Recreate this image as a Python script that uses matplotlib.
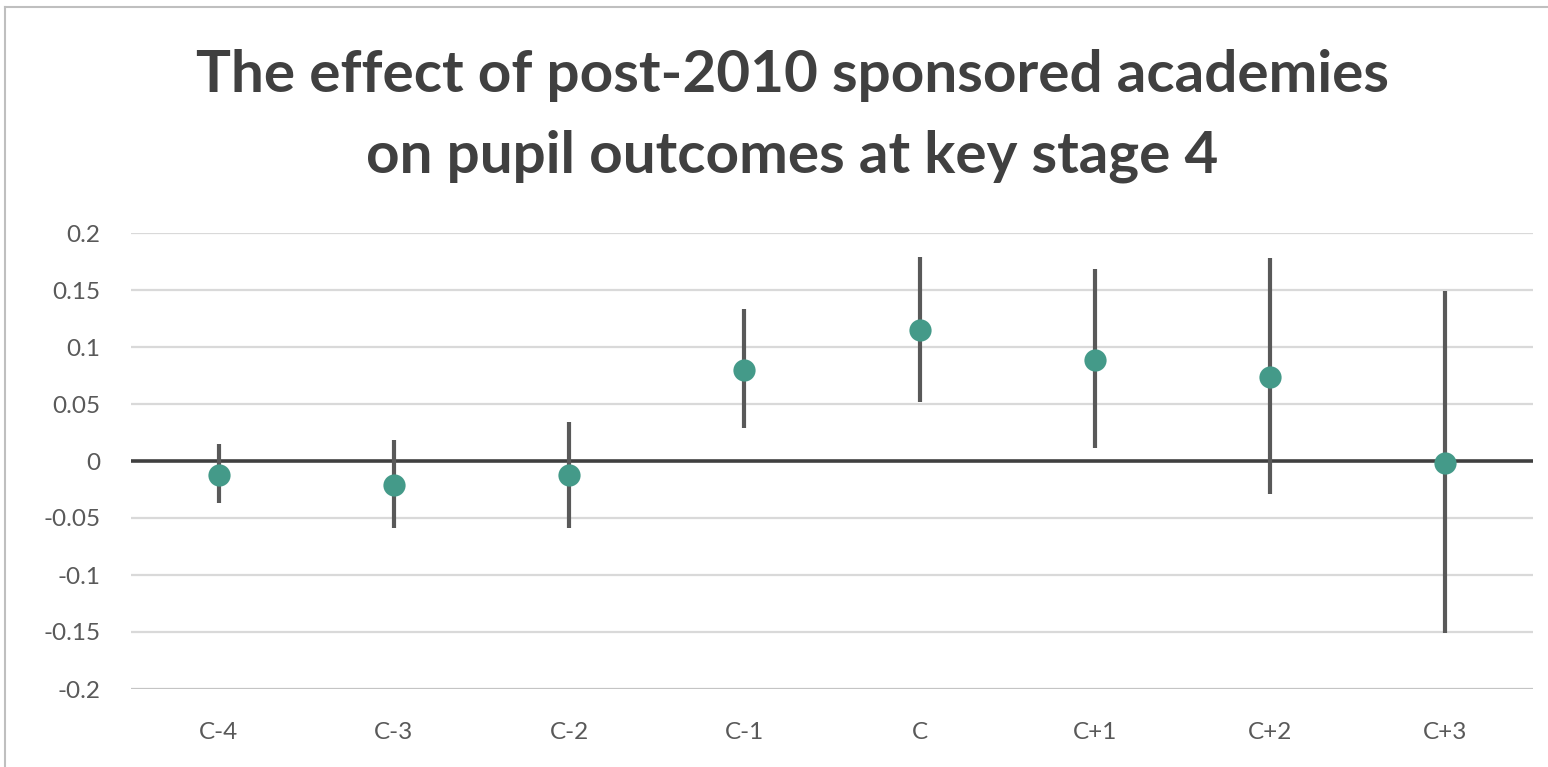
import matplotlib
matplotlib.use("Agg")
import matplotlib.pyplot as plt
from matplotlib.lines import Line2D

categories = ["C-4", "C-3", "C-2", "C-1", "C", "C+1", "C+2", "C+3"]
estimates = [-0.012, -0.021, -0.012, 0.080, 0.115, 0.089, 0.074, -0.002]
upper = [0.015, 0.018, 0.034, 0.133, 0.179, 0.168, 0.178, 0.149]
lower = [-0.037, -0.059, -0.059, 0.029, 0.052, 0.011, -0.029, -0.151]
yticks = [-0.2, -0.15, -0.1, -0.05, 0, 0.05, 0.1, 0.15, 0.2]
ytick_labels = ["-0.2", "-0.15", "-0.1", "-0.05", "0", "0.05", "0.1", "0.15", "0.2"]

plt.rcParams['font.family'] = ['Lato', 'DejaVu Sans']

W, H = 1548, 767
fig = plt.figure(figsize=(W / 100, H / 100), dpi=100)
fig.patch.set_facecolor("white")

ax = fig.add_axes([131 / W, 1 - 689 / H, (1533 - 131) / W, (689 - 233) / H])
ax.set_xlim(-0.5, len(categories) - 0.5)
ax.set_ylim(-0.2, 0.2)

# gridlines
for t in yticks:
    if t == 0:
        continue
    col = "#c4c4c4" if t == -0.2 else "#d9d9d9"
    ax.axhline(t, color=col, lw=1.6, zorder=1)
ax.axhline(0, color="#404040", lw=2.6, zorder=2)

x = list(range(len(categories)))
ax.vlines(x, lower, upper, color="#595959", lw=3.0, zorder=3)
ax.plot(x, estimates, "o", color="#449a89", markersize=16, markeredgewidth=0, zorder=4)

for s in ax.spines.values():
    s.set_visible(False)
ax.set_xticks(x)
ax.set_xticklabels(categories)
ax.set_yticks(yticks)
ax.set_yticklabels(ytick_labels)
ax.tick_params(axis="both", length=0, labelsize=17.5, labelcolor="#595959")
ax.tick_params(axis="y", pad=22)
ax.tick_params(axis="x", pad=24)

fig.text(0.5 + 18 / W, 1 - 76 / H, "The effect of post-2010 sponsored academies",
         ha="center", va="center", fontsize=42, fontweight="bold", color="#404040")
fig.text(0.5 + 18 / W, 1 - 156 / H, "on pupil outcomes at key stage 4",
         ha="center", va="center", fontsize=42, fontweight="bold", color="#404040")

# outer chart border (left and top edges)
fig.add_artist(Line2D([4.5 / W, 4.5 / W], [0, 1 - 6.5 / H], transform=fig.transFigure,
                      color="#bfbfbf", lw=1.5))
fig.add_artist(Line2D([4.5 / W, 1], [1 - 6.5 / H, 1 - 6.5 / H], transform=fig.transFigure,
                      color="#bfbfbf", lw=1.5))

fig.savefig("out.png", dpi=100, facecolor="white")
